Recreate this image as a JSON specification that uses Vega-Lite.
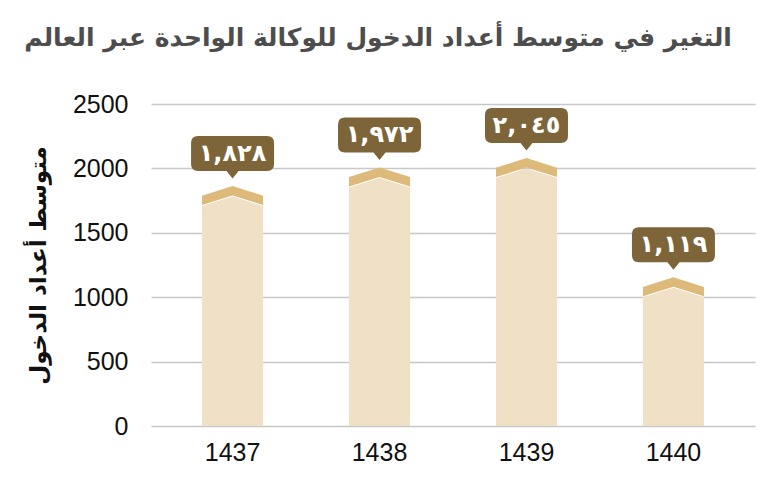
{
  "$schema": "https://vega.github.io/schema/vega-lite/v6.json",
  "autosize": {"type": "none"},
  "width": 604,
  "height": 322,
  "padding": {"left": 151, "top": 104, "right": 2, "bottom": 54},
  "background": "white",
  "title": {
    "text": "التغير في متوسط أعداد الدخول للوكالة الواحدة عبر العالم",
    "font": "DejaVu Sans",
    "fontSize": 25,
    "fontWeight": "bold",
    "color": "#4d4d4d",
    "anchor": "middle",
    "dx": -75,
    "offset": 41
  },
  "config": {"view": {"stroke": null}},
  "data": {
    "values": [
      {"year": "1437", "value": 1828, "label": "١,٨٢٨"},
      {"year": "1438", "value": 1972, "label": "١,٩٧٢"},
      {"year": "1439", "value": 2045, "label": "٢,٠٤٥"},
      {"year": "1440", "value": 1119, "label": "١,١١٩"}
    ]
  },
  "encoding": {
    "x": {
      "field": "year",
      "type": "ordinal",
      "scale": {"paddingInner": 0, "paddingOuter": 0.055},
      "axis": {
        "title": null,
        "domain": false,
        "ticks": false,
        "labelAngle": 0,
        "labelFont": "Liberation Sans",
        "labelFontSize": 25,
        "labelColor": "#111111",
        "labelPadding": 14
      }
    },
    "y": {
      "field": "value",
      "type": "quantitative",
      "scale": {"domain": [0, 2500]},
      "axis": {
        "values": [0, 500, 1000, 1500, 2000, 2500],
        "format": "d",
        "grid": true,
        "gridColor": "#c8c8c8",
        "gridWidth": 1.5,
        "domain": false,
        "ticks": false,
        "labelFont": "Liberation Sans",
        "labelFontSize": 25,
        "labelColor": "#111111",
        "labelPadding": 23,
        "title": "متوسط أعداد الدخول",
        "titleFont": "DejaVu Sans",
        "titleFontSize": 23,
        "titleFontWeight": "bold",
        "titleColor": "#111111",
        "titlePadding": 22
      }
    }
  },
  "layer": [
    {
      "mark": {"type": "bar", "width": 61, "color": "#F0E0C5", "yOffset": 20.5},
      "encoding": {"y2": {"datum": 0}}
    },
    {
      "mark": {
        "type": "point",
        "filled": true,
        "opacity": 1,
        "size": 4,
        "color": "#F0E0C5",
        "shape": "M -30.5 21.5 L -30.5 15.5 L 0 5.9 L 30.5 15.5 L 30.5 21.5 Z"
      }
    },
    {
      "mark": {
        "type": "point",
        "filled": true,
        "opacity": 1,
        "size": 4,
        "color": "#DDB97A",
        "shape": "M -30.5 5.1 L 0 -4.5 L 30.5 5.1 L 30.5 14.5 L 0 4.9 L -30.5 14.5 Z"
      }
    },
    {
      "mark": {
        "type": "point",
        "filled": true,
        "opacity": 1,
        "size": 4,
        "color": "#7D6539",
        "shape": "M -34.5 -54.5 L 34.5 -54.5 Q 41.5 -54.5 41.5 -47.5 L 41.5 -26.5 Q 41.5 -19.5 34.5 -19.5 L 6 -19.5 L 0 -12 L -6 -19.5 L -34.5 -19.5 Q -41.5 -19.5 -41.5 -26.5 L -41.5 -47.5 Q -41.5 -54.5 -34.5 -54.5 Z"
      }
    },
    {
      "mark": {
        "type": "text",
        "dy": -37,
        "baseline": "middle",
        "color": "white",
        "font": "DejaVu Sans",
        "fontSize": 24,
        "fontWeight": "bold"
      },
      "encoding": {"text": {"field": "label"}}
    }
  ]
}
